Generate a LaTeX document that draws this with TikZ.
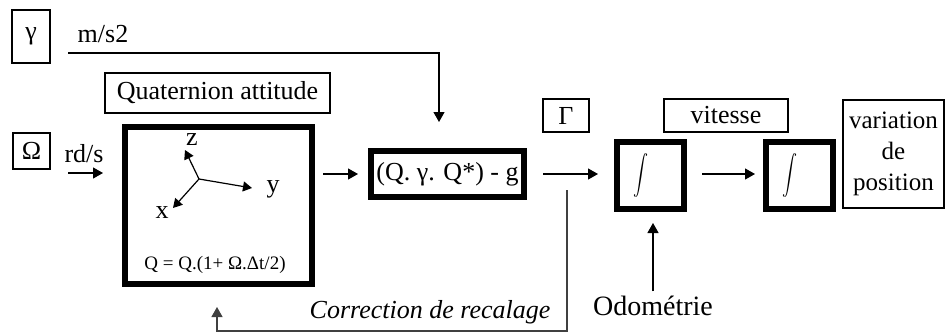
\documentclass[tikz,border=0pt]{standalone}
\usepackage{fontspec}
\setmainfont{Liberation Serif}
\usepackage{tikz}
\usetikzlibrary{arrows.meta, positioning, calc}
\tikzstyle{thinbox} = [rectangle, draw=black, line width=1.2pt, inner sep=0pt, text centered, font=\fontsize{26}{28}\selectfont]
\tikzstyle{block} = [rectangle, draw=black, line width=6pt, inner sep=0pt, text centered, font=\fontsize{26}{28}\selectfont]
\tikzstyle{lbl} = [inner sep=0pt, font=\fontsize{26}{28}\selectfont]
\tikzstyle{arrow} = [line width=1.2pt, -{Triangle[length=10pt,width=11pt]}]
\tikzstyle{axis} = [line width=1.2pt, -{Triangle[length=9pt,width=10pt]}]
\newcommand{\bigint}{\resizebox*{15pt}{44pt}{$\displaystyle\int$}}

\begin{document}
\begin{tikzpicture}[x=1pt,y=-1pt]
            \useasboundingbox (0,0) rectangle (945,332);

            % inputs
            \node[thinbox, minimum width=38pt, minimum height=53pt] (gbox) at (31,36.5) {γ};
            \node[lbl] (gunit) at (103,34) {m/s2};
            \node[thinbox, minimum width=37pt, minimum height=36pt] (obox) at (31.5,151) {Ω};
            \node[lbl] (ounit) at (84,154) {rd/s};

            % attitude block
            \node[thinbox, minimum width=225pt, minimum height=40pt] (qtitle) at (217.5,93) {Quaternion attitude};
            \node[block, minimum width=187pt, minimum height=157pt] (quat) at (218.5,205.5) {};
            \coordinate (orig) at (199,179);
            \coordinate (ztip) at (185,150);
            \coordinate (ytip) at (252,188);
            \coordinate (xtip) at (173,208);
            \draw[axis] (orig) -- (ztip);
            \draw[axis] (orig) -- (ytip);
            \draw[axis] (orig) -- (xtip);
            \node[lbl] (zlbl) at (192,140) {z};
            \node[lbl] (ylbl) at (273,189) {y};
            \node[lbl] (xlbl) at (162,213) {x};
            \node[lbl, font=\fontsize{19}{21}\selectfont] (qeq) at (215,265) {Q = Q.(1+ Ω.Δt/2)};

            % rotation and integrators
            \node[block, minimum width=153pt, minimum height=46pt] (rot) at (447.5,174) {(Q. γ. Q*) - g};
            \node[thinbox, minimum width=46pt, minimum height=33pt] (gacc) at (566,115.5) {Γ};
            \node[block, minimum width=67pt, minimum height=67pt] (int1) at (650.5,175.5) {\hspace{-20pt}\bigint};
            \node[block, minimum width=67pt, minimum height=67pt] (int2) at (799.5,175.5) {\hspace{-20pt}\bigint};
            \node[thinbox, minimum width=124pt, minimum height=33pt] (vit) at (726,115.5) {vitesse};
            \node[thinbox, minimum width=101pt, minimum height=108pt, align=center, font=\fontsize{25}{31}\selectfont] (pos) at (893.5,154) {variation\\de\\position};

            % labels below
            \node[lbl, font=\fontsize{26}{28}\itshape\selectfont] (corr) at (430,312) {Correction de recalage};
            \node[lbl, inner ysep=4pt, anchor=base, font=\fontsize{28}{30}\selectfont] (odo) at (653,315) {Odométrie};

            % connectors
            \coordinate (gin) at (68,53);
            \coordinate (gend) at (439,122);
            \draw[arrow] (gin) -| (gend);
            \coordinate (rdin) at (68,173);
            \draw[arrow, shorten >=19pt] (rdin) -- (rdin -| quat.west);
            \draw[arrow, shorten <=8pt, shorten >=10pt] (quat.east |- rot.west) -- (rot.west);
            \draw[arrow, shorten <=16pt, shorten >=16pt] (rot.east) -- (int1.west |- rot.east);
            \draw[arrow, shorten <=15pt, shorten >=8pt] (int1.east |- rot.east) -- (int2.west |- rot.east);
            \draw[arrow, shorten >=11pt] (odo.north) -- (odo.north |- int1.south);
            \coordinate (fbin) at (567,190);
            \coordinate (fbbot) at (567,331);
            \draw[arrow, draw=black!75, shorten >=20pt] (fbin) -- (fbbot) -| (quat.south -| 217,0);
\end{tikzpicture}
\end{document}
